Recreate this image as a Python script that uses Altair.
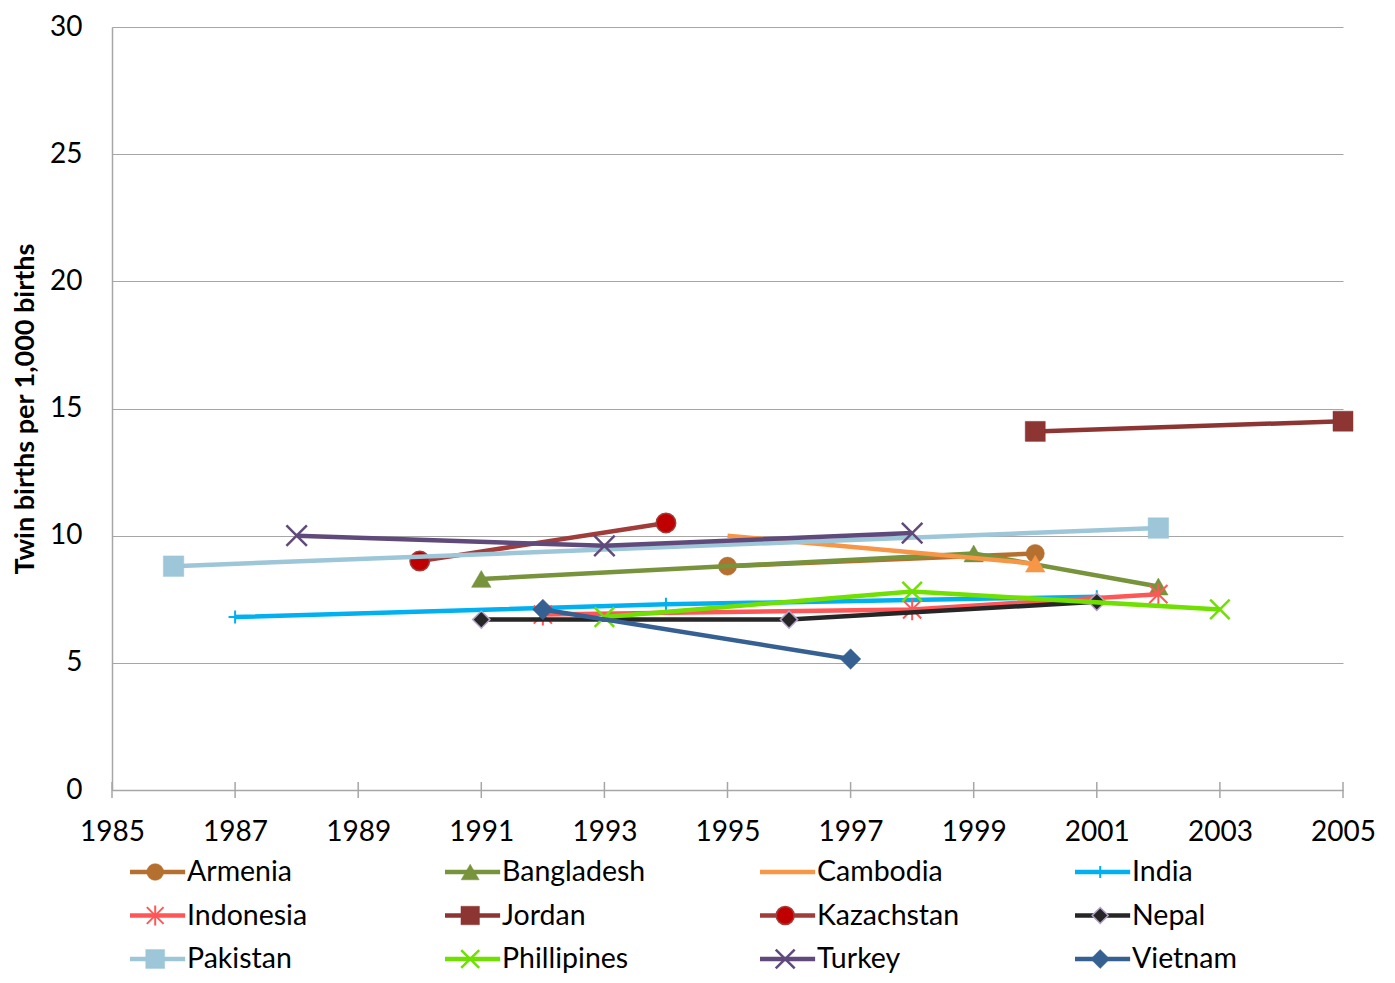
import altair as alt
import pandas as pd

# ---------------- data ----------------
countries = ["Armenia", "Bangladesh", "Cambodia", "India",
             "Indonesia", "Jordan", "Kazachstan", "Nepal",
             "Pakistan", "Phillipines", "Turkey", "Vietnam"]

armenia_years = [1995, 2000]
armenia_values = [8.8, 9.3]
bangladesh_years = [1991, 1999, 2002]
bangladesh_values = [8.3, 9.3, 8.0]
cambodia_years = [1995, 2000]
cambodia_values = [10.0, 8.9]
india_years = [1987, 1994, 2001]
india_values = [6.8, 7.3, 7.6]
indonesia_years = [1992, 1998, 2002]
indonesia_values = [6.9, 7.1, 7.7]
jordan_years = [2000, 2005]
jordan_values = [14.1, 14.5]
kazachstan_years = [1990, 1994]
kazachstan_values = [9.0, 10.5]
nepal_years = [1991, 1996, 2001]
nepal_values = [6.7, 6.7, 7.4]
pakistan_years = [1986, 2002]
pakistan_values = [8.8, 10.3]
phillipines_years = [1993, 1998, 2003]
phillipines_values = [6.8, 7.8, 7.1]
turkey_years = [1988, 1993, 1998]
turkey_values = [10.0, 9.6, 10.1]
vietnam_years = [1992, 1997]
vietnam_values = [7.1, 5.15]

series = {
    "Armenia": (armenia_years, armenia_values),
    "Bangladesh": (bangladesh_years, bangladesh_values),
    "Cambodia": (cambodia_years, cambodia_values),
    "India": (india_years, india_values),
    "Indonesia": (indonesia_years, indonesia_values),
    "Jordan": (jordan_years, jordan_values),
    "Kazachstan": (kazachstan_years, kazachstan_values),
    "Nepal": (nepal_years, nepal_values),
    "Pakistan": (pakistan_years, pakistan_values),
    "Phillipines": (phillipines_years, phillipines_values),
    "Turkey": (turkey_years, turkey_values),
    "Vietnam": (vietnam_years, vietnam_values),
}

x_ticks = list(range(1985, 2006, 2))
y_ticks = [0, 5, 10, 15, 20, 25, 30]

# ---------------- styles ----------------
X_PATH = "M-1,-1L1,1M-1,1L1,-1"
AST_PATH = "M-1,-1L1,1M-1,1L1,-1M0,-1.2L0,1.2"
PLUS_PATH = "M-1,0L1,0M0,-1L0,1"

styles = {
    "Armenia": dict(line="#B5702F", fill="#B5702F", shape="circle", size=330),
    "Bangladesh": dict(line="#77933C", fill="#77933C", shape="triangle-up", size=380),
    "Cambodia": dict(line="#F79646", fill="#F79646", shape="triangle-up", size=380, last_only=True, no_legend_marker=True),
    "India": dict(line="#00B0F0", stroke="#00B0F0", shape=PLUS_PATH, size=170, sw=2),
    "Indonesia": dict(line="#FF5757", stroke="#FF5757", shape=AST_PATH, size=330, sw=2),
    "Jordan": dict(line="#8C3533", fill="#8C3533", shape="square", size=400),
    "Kazachstan": dict(line="#A03C3A", fill="#C00000", shape="circle", size=380, outline="#A03C3A"),
    "Nepal": dict(line="#262626", fill="#262626", shape="diamond", size=300, outline="#B3A2C7"),
    "Pakistan": dict(line="#9DC6D8", fill="#9DC6D8", shape="square", size=420),
    "Phillipines": dict(line="#6FE000", stroke="#6FE000", shape=X_PATH, size=380, sw=2.5),
    "Turkey": dict(line="#604A7B", stroke="#604A7B", shape=X_PATH, size=420, sw=2.5),
    "Vietnam": dict(line="#376092", fill="#376092", shape="diamond", size=420),
}

FONT = "Lato"
AXIS_GRAY = "#A6A6A6"

x_enc = alt.X("year:Q",
              scale=alt.Scale(domain=[1985, 2005], nice=False, zero=False),
              axis=alt.Axis(values=x_ticks, format="d", grid=False, ticks=False,
                            domainColor=AXIS_GRAY, domainWidth=1.5,
                            labelFontSize=28, labelPadding=28, labelColor="#000000",
                            labelFont=FONT, title=None, labelFlush=False))
y_enc = alt.Y("value:Q",
              scale=alt.Scale(domain=[0, 30], nice=False),
              axis=alt.Axis(values=y_ticks, grid=True, gridColor=AXIS_GRAY, gridWidth=1,
                            tickSize=0, domainColor=AXIS_GRAY, domainWidth=1.5,
                            labelFontSize=28, labelPadding=30, labelColor="#000000",
                            labelFont=FONT, title="Twin births per 1,000 births",
                            titleFontSize=27, titleFont=FONT, titleFontWeight="bold",
                            titleColor="#000000", titlePadding=10))


def marker(st, extra=None):
    kw = dict(shape=st["shape"], size=st["size"], opacity=1)
    if "fill" in st:
        kw.update(filled=True, fill=st["fill"])
        if "outline" in st:
            kw.update(stroke=st["outline"], strokeWidth=1.5)
        else:
            kw.update(stroke=st["fill"], strokeWidth=0.5)
    else:
        kw.update(filled=False, stroke=st["stroke"], strokeWidth=st["sw"])
    if extra:
        kw.update(extra)
    return kw


layers = []
for name in countries:
    yrs, vals = series[name]
    st = styles[name]
    df = pd.DataFrame({"country": name, "year": yrs, "value": vals})
    layers.append(alt.Chart(df).mark_line(color=st["line"], strokeWidth=4.5)
                  .encode(x=x_enc, y=y_enc))
    pdf = df.tail(1) if st.get("last_only") else df
    layers.append(alt.Chart(pdf).mark_point(**marker(st)).encode(x=x_enc, y=y_enc))

# x-axis tick marks that cross the axis line (as in the reference)
tick_df = pd.DataFrame({"year": x_ticks, "value": [0] * len(x_ticks)})
layers.append(alt.Chart(tick_df).mark_tick(orient="vertical", size=16, thickness=1.5,
                                           color=AXIS_GRAY, opacity=1)
              .encode(x=x_enc, y=y_enc))

main = alt.layer(*layers).properties(width=1231, height=763)

# ---------------- legend ----------------
legend_df = pd.DataFrame({
    "country": countries,
    "col": [i % 4 for i in range(len(countries))],
    "row": [i // 4 for i in range(len(countries))],
})
lx = alt.Scale(domain=[0, 4], range=[18, 1278])
ly = alt.Scale(domain=[0, 2], range=[22, 109])

leg_layers = []
for name in countries:
    st = styles[name]
    base = alt.Chart(legend_df).transform_filter(alt.datum.country == name).transform_calculate(
        x0="datum.col", x1="datum.col + 0.175", xm="datum.col + 0.08")
    leg_layers.append(base.mark_rule(color=st["line"], strokeWidth=4.5).encode(
        x=alt.X("x0:Q", scale=lx, axis=None), x2="x1:Q",
        y=alt.Y("row:Q", scale=ly, axis=None)))
    if not st.get("no_legend_marker"):
        leg_layers.append(base.mark_point(**marker(st, {"size": st["size"] * 0.85})).encode(
            x=alt.X("xm:Q", scale=lx, axis=None),
            y=alt.Y("row:Q", scale=ly, axis=None)))

text_layer = alt.Chart(legend_df).transform_calculate(xt="datum.col + 0.181").mark_text(
    align="left", baseline="middle", fontSize=28.5, font=FONT, color="#000000").encode(
    x=alt.X("xt:Q", scale=lx, axis=None),
    y=alt.Y("row:Q", scale=ly, axis=None),
    text="country:N")
leg_layers.append(text_layer)

legend = alt.layer(*leg_layers).properties(width=1231, height=120)

chart = alt.vconcat(main, legend, spacing=4).properties(
    padding={"left": 3, "top": 5, "right": 0, "bottom": 0}
).configure_view(stroke=None)

chart.save("out.html", embed_options={"renderer": "svg", "actions": False})
